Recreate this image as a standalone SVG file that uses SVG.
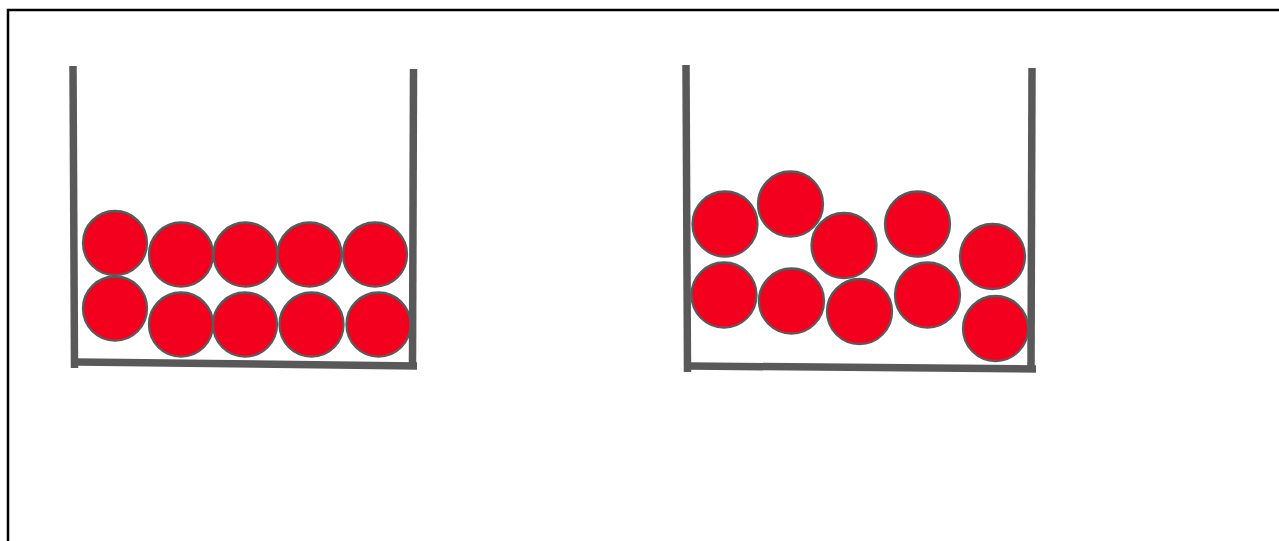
<svg xmlns="http://www.w3.org/2000/svg" width="1279" height="541" viewBox="0 0 1279 541">
<style>
.frame{fill:none;stroke:#000;stroke-width:2.5}
.wall{stroke:#595959;stroke-width:7.5;fill:none;stroke-linecap:butt}
.ball{fill:#f2001e;stroke:#5a5a5a;stroke-width:2.3}
</style>
<rect width="1279" height="541" fill="#fff"/>
<rect class="frame" x="8" y="10" width="1300" height="560"/>
<g id="container-left">
<line class="wall" x1="73" y1="66" x2="74.5" y2="368"/>
<line class="wall" x1="413.5" y1="69" x2="412.5" y2="368"/>
<line class="wall" x1="77" y1="362" x2="417" y2="366"/>
</g>
<g id="balls-left">
<circle class="ball" cx="115" cy="243" r="32"/>
<circle class="ball" cx="181" cy="254.5" r="32"/>
<circle class="ball" cx="245.5" cy="254.5" r="32"/>
<circle class="ball" cx="309.5" cy="254.5" r="32"/>
<circle class="ball" cx="375" cy="254.5" r="32"/>
<circle class="ball" cx="115" cy="308.5" r="32"/>
<circle class="ball" cx="181" cy="324.5" r="32"/>
<circle class="ball" cx="245" cy="324.5" r="32"/>
<circle class="ball" cx="311.5" cy="324.5" r="32"/>
<circle class="ball" cx="378.5" cy="324.5" r="32"/>
</g>
<g id="container-right">
<line class="wall" x1="686" y1="65" x2="687.5" y2="372"/>
<line class="wall" x1="1032" y1="68" x2="1031" y2="372"/>
<line class="wall" x1="690" y1="366" x2="1036" y2="369"/>
</g>
<g id="balls-right">
<circle class="ball" cx="725" cy="224" r="32.5"/>
<circle class="ball" cx="790.5" cy="204" r="32.5"/>
<circle class="ball" cx="844" cy="245.5" r="32.5"/>
<circle class="ball" cx="917.5" cy="224" r="32.5"/>
<circle class="ball" cx="992.5" cy="256.5" r="32.5"/>
<circle class="ball" cx="724" cy="295" r="32.5"/>
<circle class="ball" cx="791.5" cy="301" r="32.5"/>
<circle class="ball" cx="859.5" cy="311.5" r="32.5"/>
<circle class="ball" cx="927.5" cy="295" r="32.5"/>
<circle class="ball" cx="995.5" cy="328.5" r="32.5"/>
</g>
</svg>
